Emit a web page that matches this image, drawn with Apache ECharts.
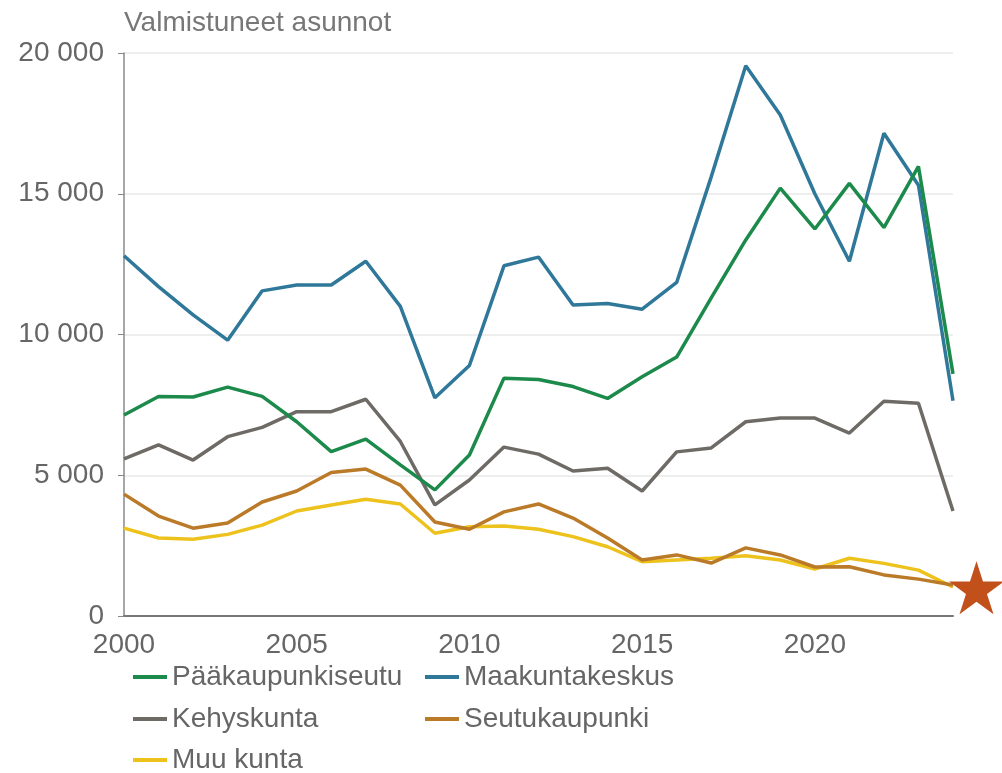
<!DOCTYPE html>
<html>
<head>
<meta charset="utf-8">
<script src="https://cdn.jsdelivr.net/npm/echarts@6/dist/echarts.min.js"></script>
<style>
  html, body { margin: 0; padding: 0; background: #fff; }
  #chart { width: 1002px; height: 773px; }
</style>
</head>
<body>
<div id="chart"></div>
<script>
const years = [2000, 2001, 2002, 2003, 2004, 2005, 2006, 2007, 2008, 2009, 2010, 2011,
  2012, 2013, 2014, 2015, 2016, 2017, 2018, 2019, 2020, 2021, 2022, 2023, 2024]

const paakaupunkiseutu = [7140, 7800, 7780, 8130, 7800, 6900, 5840, 6280, 5370, 4480, 5720, 8450,
  8400, 8150, 7730, 8500, 9200, 11300, 13360, 15200, 13750, 15370, 13800, 15970, 8600]
const maakuntakeskus = [12800, 11700, 10700, 9800, 11550, 11760, 11760, 12600, 11000, 7750, 8900, 12440,
  12750, 11050, 11100, 10900, 11850, 15600, 19550, 17800, 15000, 12600, 17150, 15300, 7650]
const kehyskunta = [5580, 6080, 5540, 6370, 6700, 7260, 7260, 7700, 6200, 3950, 4830, 6000,
  5750, 5150, 5250, 4440, 5830, 5970, 6900, 7030, 7030, 6500, 7630, 7560, 3730]
const seutukaupunki = [4330, 3550, 3120, 3300, 4050, 4440, 5100, 5220, 4650, 3340, 3080, 3700,
  3980, 3480, 2770, 1990, 2170, 1880, 2420, 2170, 1740, 1750, 1460, 1310, 1100]
const muuKunta = [3120, 2770, 2730, 2900, 3230, 3730, 3940, 4150, 3980, 2940, 3170, 3200,
  3080, 2820, 2460, 1930, 1990, 2050, 2140, 1990, 1670, 2050, 1870, 1630, 1030]

const yTicks = [0, 5000, 10000, 15000, 20000]
const starPoint = [2024.68, 1000]

const seriesDefs = [
  { name: 'Pääkaupunkiseutu', data: paakaupunkiseutu, color: '#1b8a4a' },
  { name: 'Maakuntakeskus', data: maakuntakeskus, color: '#2f7899' },
  { name: 'Kehyskunta', data: kehyskunta, color: '#6e6b66' },
  { name: 'Seutukaupunki', data: seutukaupunki, color: '#bb7a28' },
  { name: 'Muu kunta', data: muuKunta, color: '#eec21c' },
]
// draw order: yellow/orange at the back, green on top
const drawOrder = ['Muu kunta', 'Seutukaupunki', 'Kehyskunta', 'Maakuntakeskus', 'Pääkaupunkiseutu']
// legend in two columns, three rows
const legendSlots = [
  { left: 133, top: 663 },
  { left: 425, top: 663 },
  { left: 133, top: 705 },
  { left: 425, top: 705 },
  { left: 133, top: 746 },
]

const fmtThousands = (v) => String(v).replace(/\B(?=(\d{3})+(?!\d))/g, ' ')
const font = 'Liberation Sans, Arial, sans-serif'

const lineSeries = drawOrder.map((name) => {
  const def = seriesDefs.find((d) => d.name == name)
  return {
    name: def.name,
    type: 'line',
    data: years.map((y, i) => [y, def.data[i]]),
    symbol: 'none',
    color: def.color,
    lineStyle: { width: 3.5, color: def.color },
    z: 2,
  }
})

const legends = seriesDefs.map((d, i) => ({
  data: [d.name],
  left: legendSlots[i].left,
  top: legendSlots[i].top,
  padding: 0,
  itemWidth: 34,
  itemHeight: 4,
  itemGap: 8,
  icon: 'rect',
  textStyle: { fontSize: 28, color: '#666', fontFamily: font },
}))

const chart = echarts.init(document.getElementById('chart'))
chart.setOption({
  animation: false,
  textStyle: { fontFamily: font },
  grid: { left: 124, right: 49, top: 53, bottom: 157 },
  legend: legends,
  xAxis: {
    type: 'value',
    min: 2000,
    max: 2024,
    interval: 5,
    splitLine: { show: false },
    axisLine: { show: true, lineStyle: { color: '#777', width: 2 } },
    axisTick: { show: false },
    axisLabel: {
      fontSize: 28, color: '#666', margin: 15, showMaxLabel: false,
      formatter: (v) => String(v),
    },
  },
  yAxis: {
    type: 'value',
    min: yTicks[0],
    max: yTicks[yTicks.length - 1],
    interval: 5000,
    name: 'Valmistuneet asunnot',
    nameLocation: 'end',
    nameGap: 16,
    nameTextStyle: { fontSize: 28, color: '#777', align: 'left' },
    axisLine: { show: true, lineStyle: { color: '#888', width: 1.5 } },
    axisTick: { show: true, length: 6, lineStyle: { color: '#888' } },
    splitLine: { lineStyle: { color: '#eeeeee', width: 2 } },
    axisLabel: { fontSize: 28, color: '#666', margin: 20, formatter: fmtThousands },
  },
  series: [
    ...lineSeries,
    {
      name: 'star',
      type: 'scatter',
      data: [starPoint],
      clip: false,
      symbol: 'path://M50,0 L61.8,36.2 L100,36.2 L69.1,58.6 L80.9,95 L50,72.6 L19.1,95 L30.9,58.6 L0,36.2 L38.2,36.2 Z',
      symbolSize: [55, 53],
      itemStyle: { color: '#c2501b', opacity: 1 },
      z: 5,
    },
  ],
})
</script>
</body>
</html>
